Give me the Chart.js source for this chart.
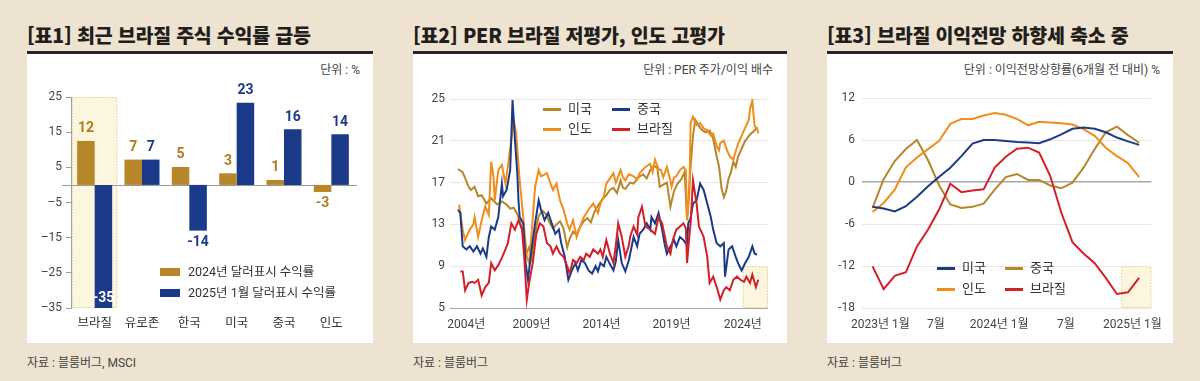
<!DOCTYPE html>
<html lang="ko">
<head>
<meta charset="utf-8">
<title>브라질 증시 3종 차트</title>
<script src="https://cdn.jsdelivr.net/npm/chart.js@4.4.1/dist/chart.umd.min.js"></script>
<style>
  html, body { margin: 0; padding: 0; }
  body {
    width: 1200px; height: 381px; position: relative; overflow: hidden;
    background: #eee3d0;
    font-family: "Roboto", "Noto Sans CJK KR", sans-serif;
    color: #333;
  }
  .abs { position: absolute; white-space: nowrap; }
  .title { top: 25px; font-family: "Noto Sans CJK KR", sans-serif; font-size: 19.5px; line-height: 20px; font-weight: 900; color: #221e1b; letter-spacing: -0.2px; }
  .rule { position: absolute; top: 51px; height: 3px; background: #2b2521; }
  .box { position: absolute; top: 54px; height: 289px; background: #fff; }
  .unit { top: 64px; font-size: 12px; line-height: 12px; color: #444; }
  .source { top: 357px; font-size: 12px; line-height: 12px; color: #444; }
  .leg { font-size: 13px; line-height: 13px; color: #333; }
  .sw { position: absolute; }
  canvas { position: absolute; top: 54px; }
</style>
</head>
<body>

<!-- 표1 -->
<div class="abs title" style="left:27px">[표1] 최근 브라질 주식 수익률 급등</div>
<div class="rule" style="left:27px;width:346px"></div>
<div class="box" style="left:27px;width:346px"></div>
<div class="abs unit" style="right:840px">단위 : %</div>
<canvas id="returnChart" width="346" height="289" style="left:27px"></canvas>
<div class="abs source" style="left:27px">자료 : 블룸버그, MSCI</div>

<!-- 표2 -->
<div class="abs title" style="left:413px">[표2] PER 브라질 저평가, 인도 고평가</div>
<div class="rule" style="left:413px;width:374px"></div>
<div class="box" style="left:413px;width:374px"></div>
<div class="abs unit" style="right:427px">단위 : PER 주가/이익 배수</div>
<canvas id="perChart" width="374" height="289" style="left:413px"></canvas>
<div class="abs source" style="left:413px">자료 : 블룸버그</div>

<!-- 표3 -->
<div class="abs title" style="left:827px">[표3] 브라질 이익전망 하향세 축소 중</div>
<div class="rule" style="left:827px;width:346px"></div>
<div class="box" style="left:827px;width:346px"></div>
<div class="abs unit" style="right:40px">단위 : 이익전망상향률(6개월 전 대비) %</div>
<canvas id="forecastChart" width="346" height="289" style="left:827px"></canvas>
<div class="abs source" style="left:827px">자료 : 블룸버그</div>

<div id="legends"></div>

<script>
Chart.defaults.font.family = '"Roboto", "Noto Sans CJK KR", sans-serif';
Chart.defaults.color = "#444";
Chart.defaults.animation = false;

const GOLD = "#b78628";
const NAVY = "#1c3a8a";
const ORANGE = "#f08d1c";
const RED = "#d32027";

// ---- 표1: 달러표시 수익률 (%)
const countries = ["브라질", "유로존", "한국", "미국", "중국", "인도"];
const return2024 = [12.5, 7.2, 5.1, 3.3, 1.4, -2.0];
const returnJan2025 = [-35, 7.2, -13.0, 23.4, 15.8, 14.4];
const return2024Labels = ["12", "7", "5", "3", "1", "-3"];
const returnJan2025Labels = ["-35", "7", "-14", "23", "16", "14"];
const returnSeriesNames = ["2024년 달러표시 수익률", "2025년 1월 달러표시 수익률"];

// ---- 표2: PER (month index from 2004-01)
const perTickMonths = [7, 62, 121, 180, 240];
const perTickLabels = ["2004년", "2009년", "2014년", "2019년", "2024년"];

const usMonths = [0, 4, 9, 11, 14, 17, 20, 24, 28, 33, 37, 41, 44, 47, 50, 53, 56, 58, 60, 62, 65, 68, 71, 74, 77, 80, 83, 86, 89, 92, 94, 97, 100, 103, 106, 109, 112, 115, 118, 121, 125, 128, 131, 134, 137, 139, 141, 145, 148, 152, 156, 159, 162, 165, 168, 170, 173, 176, 178, 179, 182, 185, 188, 191, 193, 196, 198, 200, 203, 206, 209, 212, 215, 218, 220, 222, 224, 226, 228, 230, 232, 234, 236, 238, 240, 242, 244, 246, 248, 250, 252];
const usPer = [18.3, 18.0, 16.6, 16.3, 16.6, 15.7, 15.8, 15.0, 15.5, 14.9, 15.2, 14.9, 14.5, 14.6, 14.0, 13.0, 11.5, 10.3, 10.8, 9.8, 12.2, 13.8, 14.3, 14.0, 13.2, 12.6, 13.0, 13.3, 12.6, 10.8, 11.6, 12.3, 12.0, 12.8, 13.3, 13.6, 13.2, 14.2, 14.8, 15.3, 15.8, 16.3, 16.5, 16.0, 17.2, 16.5, 16.4, 17.0, 16.9, 17.5, 17.8, 17.4, 18.2, 18.6, 18.4, 16.6, 16.8, 17.0, 15.5, 14.7, 16.2, 16.9, 17.3, 18.0, 13.4, 18.5, 21.5, 23.0, 22.4, 22.0, 21.8, 22.0, 21.2, 19.5, 18.5, 16.5, 15.6, 16.2, 17.4, 18.0, 19.0, 18.5, 19.5, 20.0, 20.5, 21.0, 21.3, 21.6, 21.8, 22.0, 22.3];

const indiaMonths = [1, 4, 6, 7, 10, 13, 14, 17, 20, 23, 26, 28, 30, 31, 34, 37, 40, 42, 45, 47, 49, 52, 55, 58, 60, 62, 65, 68, 70, 75, 78, 80, 83, 86, 89, 92, 94, 97, 100, 103, 106, 110, 114, 118, 120, 123, 125, 128, 131, 133, 137, 139, 141, 144, 148, 151, 153, 158, 162, 164, 166, 169, 171, 173, 176, 179, 180, 182, 184, 187, 190, 192, 193, 195, 196, 198, 201, 204, 207, 210, 213, 215, 218, 220, 221, 224, 227, 229, 232, 234, 236, 239, 241, 243, 245, 246, 248, 249, 250, 252, 253];
const indiaPer = [14.9, 12.5, 11.5, 11.8, 12.5, 13.0, 13.7, 11.8, 13.4, 14.7, 13.9, 19.0, 17.5, 15.3, 18.2, 18.7, 16.9, 18.5, 21.1, 23.0, 21.7, 17.2, 13.7, 9.9, 9.3, 12.1, 16.6, 18.2, 17.6, 17.9, 16.9, 16.3, 16.9, 15.3, 14.4, 13.1, 12.5, 13.4, 11.8, 12.8, 13.7, 14.4, 15.0, 14.1, 15.0, 15.7, 16.9, 17.4, 17.9, 17.0, 18.2, 17.5, 17.2, 17.8, 17.6, 17.3, 17.9, 18.5, 18.8, 18.0, 19.2, 18.3, 18.2, 17.5, 18.5, 17.2, 16.6, 17.5, 17.6, 18.2, 18.5, 18.2, 13.4, 16.0, 22.7, 23.3, 22.5, 22.7, 22.2, 22.0, 21.5, 21.7, 20.5, 20.1, 20.8, 21.0, 20.0, 19.5, 19.2, 20.0, 20.7, 21.5, 22.0, 22.5, 23.0, 24.0, 24.9, 23.5, 22.4, 22.2, 21.7];

const chinaMonths = [0, 2, 4, 7, 10, 13, 16, 19, 21, 24, 26, 28, 31, 34, 37, 38, 41, 44, 46, 48, 50, 51, 52, 55, 57, 59, 62, 65, 68, 70, 73, 76, 79, 82, 85, 87, 90, 93, 96, 99, 101, 104, 107, 110, 113, 116, 118, 120, 123, 125, 128, 131, 133, 135, 138, 141, 144, 148, 151, 153, 156, 159, 162, 163, 166, 169, 172, 174, 176, 179, 182, 184, 187, 190, 193, 194, 196, 198, 201, 204, 207, 210, 213, 215, 218, 221, 224, 225, 228, 231, 234, 236, 239, 242, 245, 248, 250, 252];
const chinaPer = [14.4, 14.1, 10.9, 10.6, 10.9, 10.4, 10.9, 10.2, 10.7, 9.9, 11.8, 12.8, 12.5, 13.7, 16.9, 15.7, 16.3, 18.2, 24.9, 21.1, 17.9, 15.3, 13.7, 13.1, 9.3, 7.7, 10.6, 13.1, 15.3, 14.4, 13.4, 14.1, 13.1, 12.1, 12.5, 11.2, 9.9, 7.7, 8.6, 9.3, 8.6, 9.6, 9.3, 8.6, 8.3, 9.0, 8.5, 9.3, 9.0, 9.9, 9.2, 8.6, 9.5, 11.5, 9.3, 8.5, 9.6, 11.8, 10.9, 12.1, 12.5, 13.1, 12.5, 13.7, 13.1, 14.1, 12.5, 11.2, 10.2, 10.9, 11.5, 10.9, 11.8, 11.5, 11.0, 13.1, 13.6, 15.0, 15.3, 16.9, 16.3, 15.0, 13.7, 12.5, 11.2, 10.9, 11.2, 8.0, 10.6, 10.9, 9.9, 9.3, 8.6, 9.3, 9.9, 10.9, 10.2, 10.1];

const brazilMonths = [2, 4, 6, 9, 12, 14, 17, 20, 23, 26, 28, 31, 34, 37, 40, 42, 45, 48, 51, 54, 56, 58, 60, 63, 66, 69, 72, 75, 78, 80, 83, 86, 89, 92, 94, 97, 100, 103, 106, 108, 111, 114, 118, 120, 122, 125, 128, 131, 133, 135, 138, 141, 144, 145, 148, 151, 152, 155, 158, 162, 166, 169, 172, 176, 179, 181, 184, 187, 190, 192, 193, 195, 196, 198, 201, 203, 207, 210, 212, 215, 218, 221, 224, 226, 229, 232, 235, 238, 241, 243, 246, 248, 251, 253];
const brazilPer = [8.5, 8.5, 6.7, 7.4, 7.5, 7.4, 7.7, 6.2, 7.0, 7.4, 9.3, 8.6, 9.1, 9.8, 10.6, 11.2, 13.1, 12.5, 13.4, 12.5, 9.6, 5.8, 7.4, 9.3, 12.1, 13.1, 12.8, 11.2, 10.9, 10.2, 10.9, 10.2, 9.9, 9.0, 8.3, 9.6, 9.3, 9.9, 9.6, 10.2, 9.9, 10.6, 10.2, 10.6, 9.9, 11.5, 10.2, 9.3, 11.0, 13.1, 11.8, 9.9, 11.0, 11.8, 12.8, 12.0, 13.7, 14.7, 12.8, 12.5, 12.1, 13.7, 13.1, 10.9, 10.2, 11.5, 12.5, 12.8, 13.1, 12.6, 9.3, 12.0, 13.1, 17.2, 15.0, 12.8, 11.8, 9.9, 7.4, 8.0, 7.0, 5.8, 6.7, 7.0, 6.7, 7.7, 8.0, 7.7, 7.5, 8.0, 7.4, 8.2, 7.0, 7.7];

// ---- 표3: 이익전망 상향률 (6개월 전 대비, %)
const forecastMonths = ["2023.01", "2023.02", "2023.03", "2023.04", "2023.05", "2023.06", "2023.07", "2023.08", "2023.09", "2023.10", "2023.11", "2023.12",
  "2024.01", "2024.02", "2024.03", "2024.04", "2024.05", "2024.06", "2024.07", "2024.08", "2024.09", "2024.10", "2024.11", "2024.12", "2025.01"];
const forecastTickPos = [0.7, 5.7, 11.4, 17.4, 23.4];
const forecastTickLabels = ["2023년 1월", "7월", "2024년 1월", "7월", "2025년 1월"];
const usRevision = [-3.55, -3.8, -4.2, -3.45, -2.1, -0.6, 0.75, 2.05, 3.7, 5.5, 6.0, 6.0, 5.85, 5.7, 5.65, 5.55, 6.1, 6.8, 7.6, 7.8, 7.6, 7.1, 6.35, 5.8, 5.3];
const chinaRevision = [-3.7, 0.4, 3.0, 4.7, 6.0, 3.1, -0.5, -3.2, -3.7, -3.55, -3.1, -1.1, 0.7, 1.15, 0.3, 0.3, -0.5, -0.9, -0.1, 2.05, 4.7, 7.1, 7.9, 6.7, 5.6];
const indiaRevision = [-4.3, -3.0, -1.1, 2.1, 3.5, 4.7, 5.9, 8.3, 9.0, 9.0, 9.5, 9.85, 9.6, 9.0, 8.1, 8.6, 8.5, 8.4, 8.2, 7.55, 6.6, 4.9, 3.7, 2.7, 0.7];
const brazilRevision = [-12.05, -15.3, -13.4, -12.9, -9.2, -6.8, -3.9, -0.25, -1.45, -1.2, -1.05, 2.05, 3.6, 4.75, 4.9, 4.2, 0.85, -4.4, -8.6, -10.2, -11.6, -13.7, -16.0, -15.75, -13.7];

// yellow box marking the latest period
function drawHighlight(chart, x0, x1, y0, y1) {
  const ctx = chart.ctx;
  ctx.save();
  ctx.fillStyle = "#fcf6df";
  ctx.fillRect(x0, y0, x1 - x0, y1 - y0);
  ctx.strokeStyle = "#e0d197";
  ctx.lineWidth = 1;
  ctx.setLineDash([1.5, 1.5]);
  ctx.strokeRect(x0 + 0.5, y0 + 0.5, x1 - x0 - 1, y1 - y0 - 1);
  ctx.restore();
}

function toPoints(xs, ys) {
  return xs.map((x, i) => ({ x: x, y: ys[i] }));
}

// legend in html, laid out as rows of `perRow` items
function addLegend(items, lefts, tops, kind, perRow) {
  const box = document.getElementById("legends");
  items.forEach((item, i) => {
    const left = lefts[i % perRow];
    const cy = tops[Math.floor(i / perRow)];
    const sw = document.createElement("div");
    sw.className = "sw";
    if (kind === "bar") {
      sw.style.cssText = `left:${left}px;top:${cy - 4}px;width:20px;height:8px;background:${item.color}`;
    } else {
      sw.style.cssText = `left:${left}px;top:${cy - 1.5}px;width:18px;height:3px;background:${item.color}`;
    }
    box.appendChild(sw);
    const t = document.createElement("div");
    t.className = "abs leg";
    if (kind === "bar") t.style.fontSize = "12.5px";
    t.style.left = (left + (kind === "bar" ? 28 : 25)) + "px";
    t.style.top = (cy - 7) + "px";
    t.textContent = item.text;
    box.appendChild(t);
  });
}

// ---------- 표1
const returnDecor = {
  id: "returnDecor",
  beforeDatasetsDraw(chart) {
    const { x, y } = chart.scales;
    const cx = x.getPixelForValue(0);
    const step = x.getPixelForValue(1) - cx;
    drawHighlight(chart, cx - step * 0.48, cx + step * 0.48, y.getPixelForValue(25), y.getPixelForValue(-35));
    const ctx = chart.ctx;
    const zy = Math.round(y.getPixelForValue(0)) + 0.5;
    ctx.save();
    ctx.strokeStyle = "#9a9a9a";
    ctx.lineWidth = 1;
    ctx.beginPath();
    ctx.moveTo(chart.chartArea.left - 9, zy);
    ctx.lineTo(chart.chartArea.right + 2, zy);
    ctx.stroke();
    ctx.restore();
  },
  afterDatasetsDraw(chart) {
    const ctx = chart.ctx;
    ctx.save();
    ctx.font = 'bold 14px "Roboto", "Noto Sans CJK KR", sans-serif';
    ctx.textAlign = "center";
    ctx.textBaseline = "middle";
    chart.data.datasets.forEach((ds, di) => {
      chart.getDatasetMeta(di).data.forEach((bar, i) => {
        const v = ds.data[i];
        let ty = v >= 0 ? bar.y - 12 : bar.y + 12;
        let color = ds.labelColor;
        if (ty > chart.chartArea.bottom - 4) {
          ty = bar.y - 10;
          color = "#ffffff";
        }
        ctx.fillStyle = color;
        ctx.fillText(ds.valueLabels[i], bar.x, ty);
      });
    });
    ctx.restore();
  }
};

new Chart(document.getElementById("returnChart"), {
  type: "bar",
  data: {
    labels: countries,
    datasets: [
      { label: returnSeriesNames[0], data: return2024, backgroundColor: GOLD, valueLabels: return2024Labels, labelColor: "#b07a1e" },
      { label: returnSeriesNames[1], data: returnJan2025, backgroundColor: NAVY, valueLabels: returnJan2025Labels, labelColor: NAVY }
    ]
  },
  options: {
    responsive: false,
    animation: false,
    layout: { padding: { top: 43, right: 18, left: 0, bottom: 0 } },
    datasets: { bar: { categoryPercentage: 0.74, barPercentage: 1.0 } },
    plugins: { legend: { display: false }, tooltip: { enabled: false } },
    scales: {
      x: {
        grid: { display: false, drawTicks: false },
        border: { display: false },
        ticks: { color: "#333", font: { size: 12.5 }, padding: 8 },
        afterFit(scale) { scale.height = 35; }
      },
      y: {
        min: -35,
        max: 25,
        ticks: {
          stepSize: 10,
          padding: 4,
          color: "#444",
          font: { size: 12 },
          callback: (v) => (v < 0 ? "\u2013" + Math.abs(v) : String(v))
        },
        grid: { drawOnChartArea: false, drawTicks: true, tickLength: 5, color: "#9a9a9a" },
        border: { display: true, color: "#9a9a9a" },
        afterFit(scale) { scale.width = 44; }
      }
    }
  },
  plugins: [returnDecor]
});

addLegend([
  { text: returnSeriesNames[0], color: GOLD },
  { text: returnSeriesNames[1], color: NAVY }
], [160], [272, 293], "bar", 1);

// ---------- 표2
const perDecor = {
  id: "perDecor",
  beforeDatasetsDraw(chart) {
    const { x, y } = chart.scales;
    drawHighlight(chart, x.getPixelForValue(240), chart.chartArea.right, y.getPixelForValue(9), y.getPixelForValue(5));
  }
};

new Chart(document.getElementById("perChart"), {
  type: "line",
  data: {
    datasets: [
      { label: "브라질", data: toPoints(brazilMonths, brazilPer), borderColor: RED, order: 1 },
      { label: "중국", data: toPoints(chinaMonths, chinaPer), borderColor: NAVY, order: 2 },
      { label: "인도", data: toPoints(indiaMonths, indiaPer), borderColor: ORANGE, order: 3 },
      { label: "미국", data: toPoints(usMonths, usPer), borderColor: GOLD, order: 4 }
    ]
  },
  options: {
    responsive: false,
    animation: false,
    layout: { padding: { top: 45, right: 19, left: 0, bottom: 0 } },
    elements: { point: { radius: 0 }, line: { borderWidth: 2, tension: 0 } },
    plugins: { legend: { display: false }, tooltip: { enabled: false } },
    scales: {
      x: {
        type: "linear",
        min: -6.7,
        max: 261.2,
        grid: { display: false, drawTicks: false },
        border: { display: false },
        afterBuildTicks(scale) { scale.ticks = perTickMonths.map((v) => ({ value: v })); },
        ticks: { autoSkip: false, maxRotation: 0, padding: 10, color: "#444", font: { size: 12 },
          callback: (v, i) => perTickLabels[i] },
        afterFit(scale) { scale.height = 35; }
      },
      y: {
        min: 5,
        max: 25,
        ticks: { stepSize: 4, padding: 5, color: "#444", font: { size: 12 } },
        grid: { drawTicks: false, color: (c) => (c.tick && c.tick.value === 5 ? "#a8a8a8" : "#e8e8e8") },
        border: { display: false },
        afterFit(scale) { scale.width = 37; }
      }
    }
  },
  plugins: [perDecor]
});

addLegend([
  { text: "미국", color: GOLD },
  { text: "중국", color: NAVY },
  { text: "인도", color: ORANGE },
  { text: "브라질", color: RED }
], [543, 612], [109, 129], "line", 2);

// ---------- 표3
const forecastDecor = {
  id: "forecastDecor",
  beforeDatasetsDraw(chart) {
    const { x, y } = chart.scales;
    drawHighlight(chart, x.getPixelForValue(22.4), chart.chartArea.right, y.getPixelForValue(-12), y.getPixelForValue(-18));
  }
};

const idx = forecastMonths.map((m, i) => i);

new Chart(document.getElementById("forecastChart"), {
  type: "line",
  data: {
    datasets: [
      { label: "브라질", data: toPoints(idx, brazilRevision), borderColor: RED, order: 1 },
      { label: "미국", data: toPoints(idx, usRevision), borderColor: NAVY, order: 2 },
      { label: "인도", data: toPoints(idx, indiaRevision), borderColor: ORANGE, order: 3 },
      { label: "중국", data: toPoints(idx, chinaRevision), borderColor: GOLD, order: 4 }
    ]
  },
  options: {
    responsive: false,
    animation: false,
    layout: { padding: { top: 44, right: 18, left: 0, bottom: 0 } },
    elements: { point: { radius: 0 }, line: { borderWidth: 2, tension: 0 } },
    plugins: { legend: { display: false }, tooltip: { enabled: false } },
    scales: {
      x: {
        type: "linear",
        min: -0.95,
        max: 25.1,
        grid: { display: false, drawTicks: false },
        border: { display: false },
        afterBuildTicks(scale) { scale.ticks = forecastTickPos.map((v) => ({ value: v })); },
        ticks: { autoSkip: false, maxRotation: 0, padding: 10, color: "#444", font: { size: 12 },
          callback: (v, i) => forecastTickLabels[i] },
        afterFit(scale) { scale.height = 35; }
      },
      y: {
        min: -18,
        max: 12,
        ticks: { stepSize: 6, padding: 7, color: "#444", font: { size: 12 } },
        grid: {
          drawTicks: false,
          color: (c) => (c.tick && c.tick.value === 0 ? "#a8a8a8" : "#e8e8e8"),
          lineWidth: (c) => (c.tick && c.tick.value === 0 ? 1.5 : 1)
        },
        border: { display: false },
        afterFit(scale) { scale.width = 35; }
      }
    }
  },
  plugins: [forecastDecor]
});

addLegend([
  { text: "미국", color: NAVY },
  { text: "중국", color: GOLD },
  { text: "인도", color: ORANGE },
  { text: "브라질", color: RED }
], [937, 1005], [268, 289], "line", 2);
</script>
</body>
</html>
